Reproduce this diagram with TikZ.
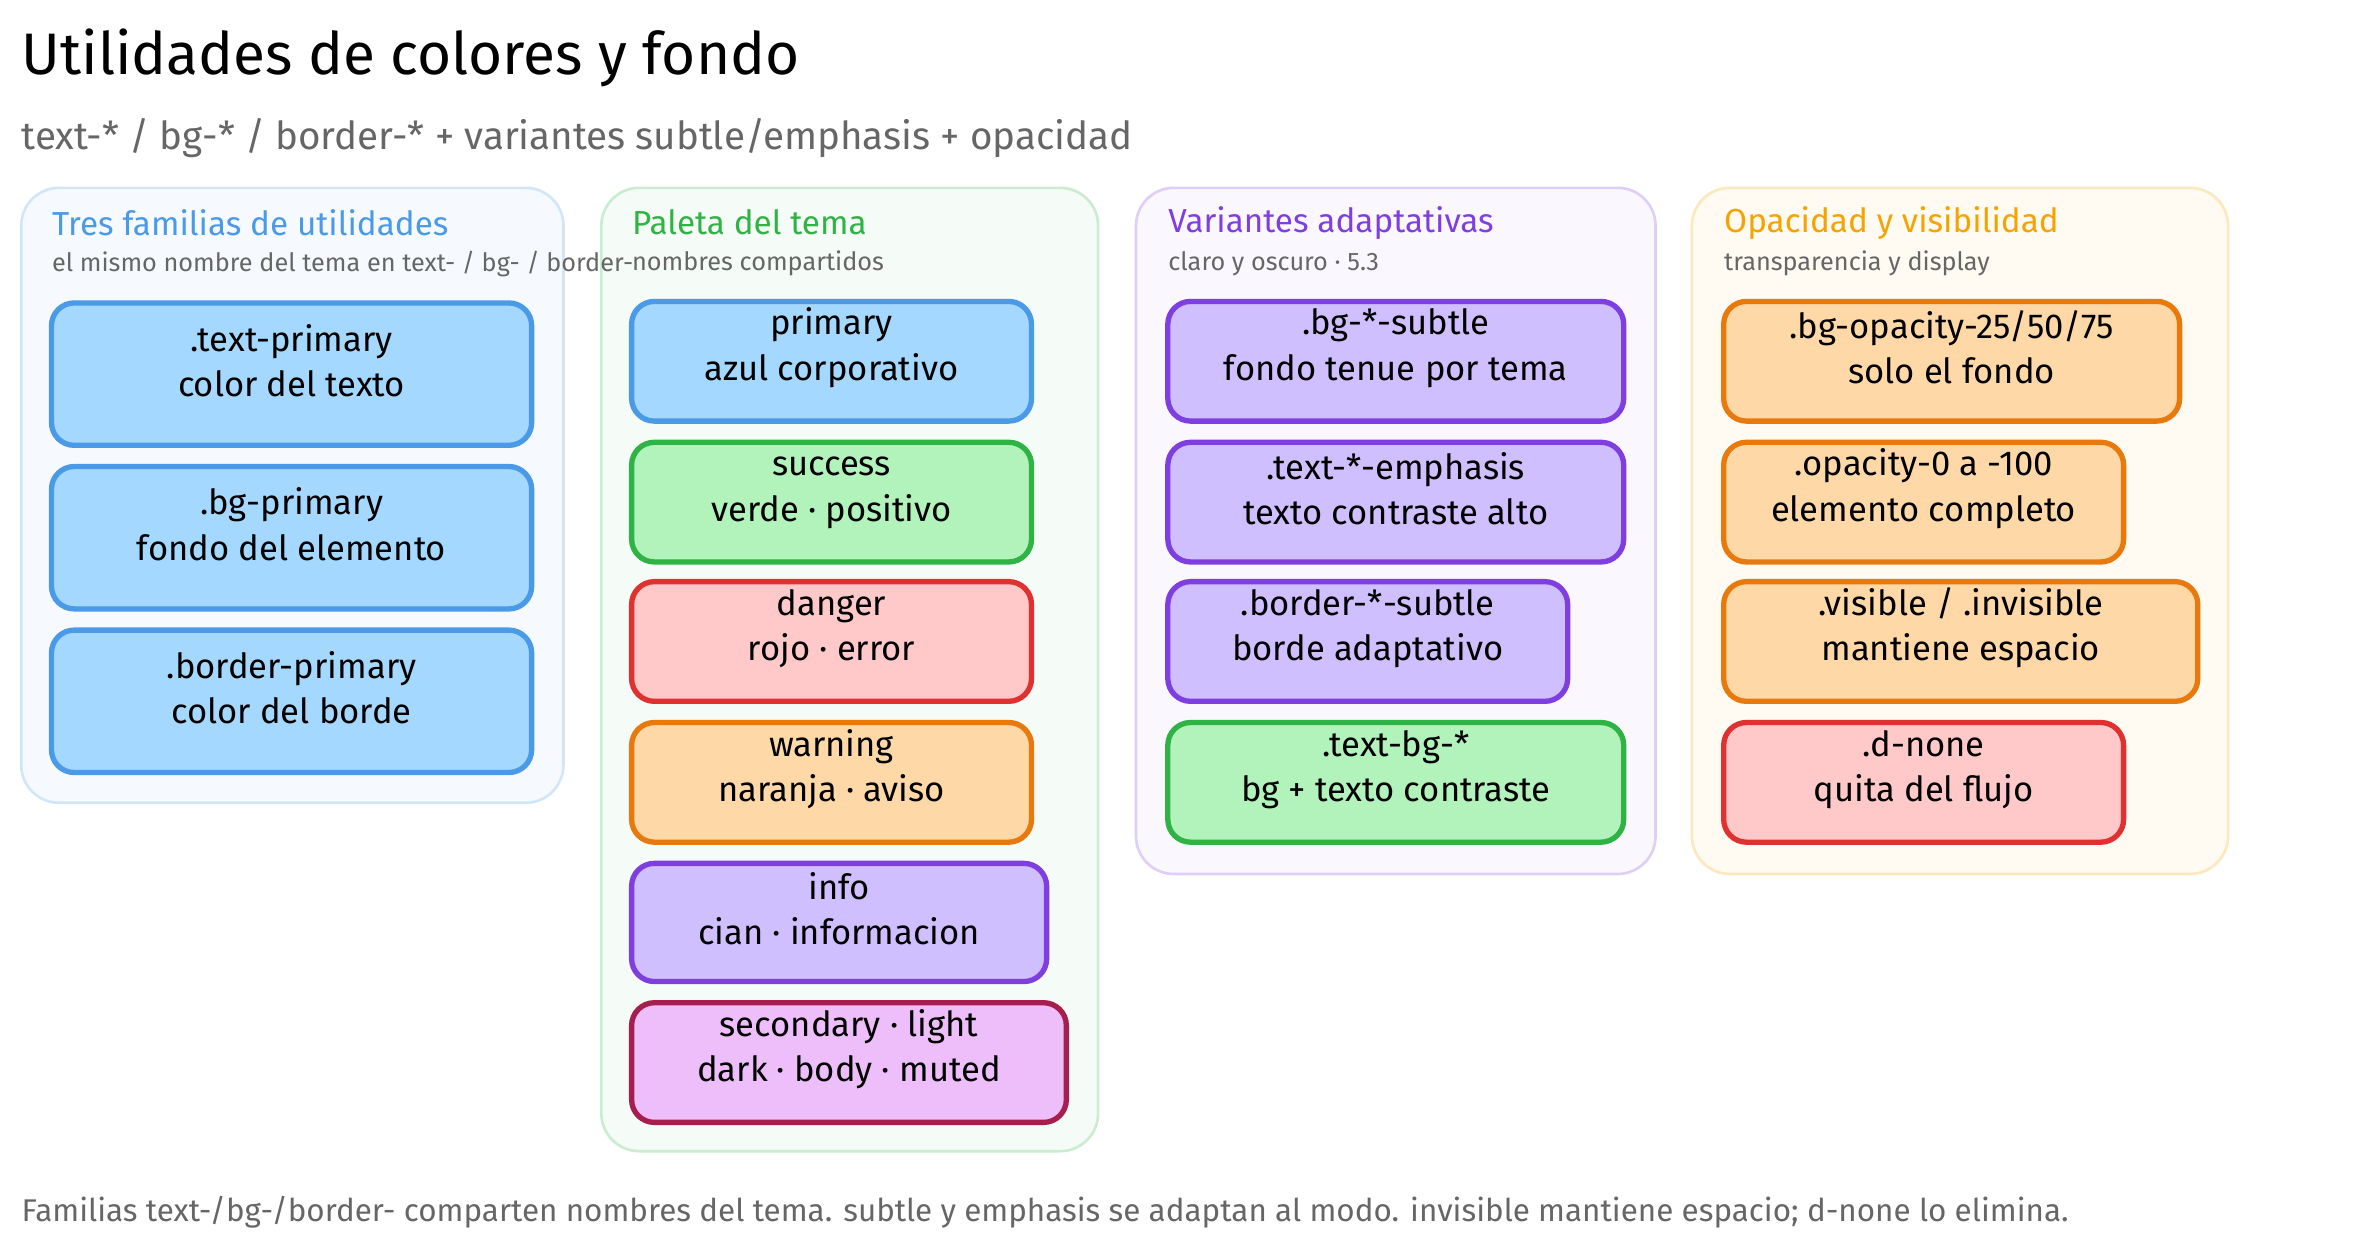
\documentclass[tikz,border=0pt]{standalone}
\usepackage{fontspec}
\setmainfont{Fira Sans}
\usetikzlibrary{fit, positioning}

\definecolor{blueS}{HTML}{4A9AE8}
\definecolor{blueF}{HTML}{A5D8FF}
\definecolor{greenS}{HTML}{2FB344}
\definecolor{greenF}{HTML}{B2F2BB}
\definecolor{redS}{HTML}{E03131}
\definecolor{redF}{HTML}{FFC9C9}
\definecolor{orangeS}{HTML}{E8790C}
\definecolor{orangeF}{HTML}{FFD8A8}
\definecolor{violetS}{HTML}{7F3FE0}
\definecolor{violetF}{HTML}{D0BFFF}
\definecolor{pinkS}{HTML}{A61E4D}
\definecolor{pinkF}{HTML}{EEBEFA}
\definecolor{yellowT}{HTML}{F5A300}
\definecolor{grayT}{HTML}{666666}

\begin{document}
\begin{tikzpicture}[x=0.02cm, y=-0.02cm,
    panel/.style={draw, line width=1pt, rounded corners=0.5cm, inner sep=0pt},
    card/.style={draw, line width=2pt, rounded corners=0.3cm, inner sep=0pt,
                 align=center, font=\fontsize{13}{17}\selectfont},
    ptitle/.style={anchor=west, inner sep=0pt, font=\fontsize{12.5}{15}\selectfont},
    psub/.style={anchor=west, inner sep=0pt, text=grayT, font=\fontsize{9.5}{12}\selectfont},
    cblue/.style={card, draw=blueS, fill=blueF},
    cgreen/.style={card, draw=greenS, fill=greenF},
    cred/.style={card, draw=redS, fill=redF},
    corange/.style={card, draw=orangeS, fill=orangeF},
    cviolet/.style={card, draw=violetS, fill=violetF},
    cpink/.style={card, draw=pinkS, fill=pinkF}
]
\useasboundingbox (0,0) rectangle (1568,826);

% Header
\node[anchor=west, inner sep=0pt, font=\fontsize{22}{26}\selectfont] (title) at (14,38) {Utilidades de colores y fondo};
\node[anchor=west, inner sep=0pt, text=grayT, font=\fontsize{14.5}{18}\selectfont] (subtitle) at (14,91) {text-* / bg-* / border-* + variantes subtle/emphasis + opacidad};

% Panels
\node[panel, draw=blueS!25, fill=blueS!5, fit={(14,124)(372,530)}] (pfam) {};
\node[panel, draw=greenS!25, fill=greenS!5, fit={(397,124)(725,760)}] (ppal) {};
\node[panel, draw=violetS!25, fill=violetS!4, fit={(750,124)(1093,577)}] (pvar) {};
\node[panel, draw=yellowT!25, fill=yellowT!5, fit={(1117,124)(1471,577)}] (popa) {};

\node[ptitle, text=blueS] (tfam) at (34,147) {Tres familias de utilidades};
\node[psub] (sfam) at (34,174) {el mismo nombre del tema en text- / bg- / border-};
\node[ptitle, text=greenS] (tpal) at (417,147) {Paleta del tema};
\node[psub] (spal) at (417,174) {nombres compartidos};
\node[ptitle, text=violetS] (tvar) at (771,147) {Variantes adaptativas};
\node[psub] (svar) at (771,174) {claro y oscuro · 5.3};
\node[ptitle, text=yellowT] (topa) at (1138,147) {Opacidad y visibilidad};
\node[psub] (sopa) at (1138,174) {transparencia y display};

% Tres familias
\node[cblue, fit={(34,200)(351,294)}] (textprim) {.text-primary\\color del texto};
\node[cblue, fit={(34,308)(351,402)}] (bgprim) {.bg-primary\\fondo del elemento};
\node[cblue, fit={(34,416)(351,510)}] (borderprim) {.border-primary\\color del borde};

% Paleta
\node[cblue, fit={(417,199)(681,278)}] (primary) {primary\\azul corporativo};
\node[cgreen, fit={(417,292)(681,371)}] (success) {success\\verde · positivo};
\node[cred, fit={(417,384)(681,463)}] (danger) {danger\\rojo · error};
\node[corange, fit={(417,477)(681,556)}] (warning) {warning\\naranja · aviso};
\node[cviolet, fit={(417,570)(691,648)}] (info) {info\\cian · informacion};
\node[cpink, fit={(417,662)(704,741)}] (secondary) {secondary · light\\dark · body · muted};

% Variantes
\node[cviolet, fit={(771,199)(1072,278)}] (bgsubtle) {.bg-*-subtle\\fondo tenue por tema};
\node[cviolet, fit={(771,292)(1072,371)}] (textemph) {.text-*-emphasis\\texto contraste alto};
\node[cviolet, fit={(771,384)(1035,463)}] (bordersubtle) {.border-*-subtle\\borde adaptativo};
\node[cgreen, fit={(771,477)(1072,556)}] (textbg) {.text-bg-*\\bg + texto contraste};

% Opacidad
\node[corange, fit={(1138,199)(1439,278)}] (bgopa) {.bg-opacity-25/50/75\\solo el fondo};
\node[corange, fit={(1138,292)(1402,371)}] (opa) {.opacity-0 a -100\\elemento completo};
\node[corange, fit={(1138,384)(1451,463)}] (visible) {.visible / .invisible\\mantiene espacio};
\node[cred, fit={(1138,477)(1402,556)}] (dnone) {.d-none\\quita del flujo};

% Footer
\node[anchor=west, inner sep=0pt, text=grayT, font=\fontsize{11.8}{14}\selectfont] (footer) at (14,800) {Familias text-/bg-/border- comparten nombres del tema. subtle y emphasis se adaptan al modo. invisible mantiene espacio; d-none lo elimina.};
\end{tikzpicture}
\end{document}
